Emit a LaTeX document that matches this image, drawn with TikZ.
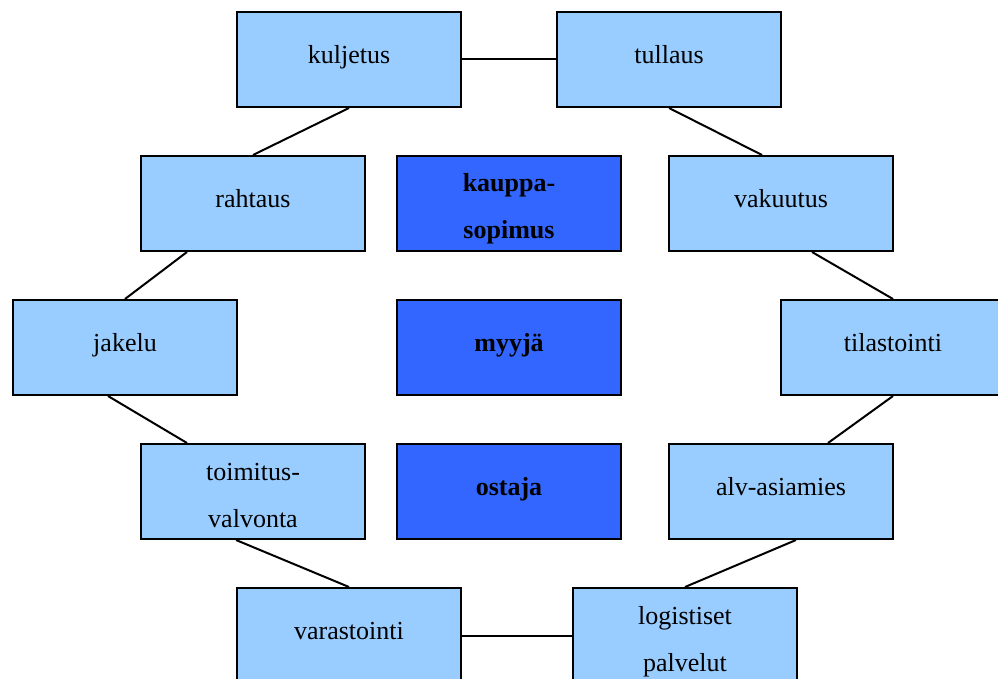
\documentclass[tikz,border=0pt]{standalone}
\usepackage{fontspec}
\setmainfont{Liberation Serif}
\definecolor{lightbox}{HTML}{99CCFF}
\definecolor{darkbox}{HTML}{3366FF}
% two centred lines, baseline of the whole box on the first line
\newcommand\twolines[2]{\vtop{\baselineskip=47pt\halign{\hfil##\hfil\cr#1\cr#2\cr}}}
\begin{document}
\begin{tikzpicture}[x=1pt,y=-1pt,
  box/.style={draw=black, line width=2pt, minimum width=224pt, minimum height=95pt,
    inner sep=0pt, text height=18pt, text depth=10.4pt, font=\fontsize{26}{47}\selectfont},
  dbl/.style={text height=18pt, text depth=41pt},
  task/.style={box, fill=lightbox},
  party/.style={box, fill=darkbox, font=\fontsize{26}{47}\selectfont\bfseries},
  link/.style={draw=black, line width=2pt}]
\useasboundingbox (0,0) rectangle (998,679);
% outer ring of service boxes
\node[task] (kuljetus)  at (349,59.5)  {kuljetus};
\node[task] (tullaus)   at (669,59.5)  {tullaus};
\node[task] (rahtaus)   at (253,203.5) {rahtaus};
\node[task] (vakuutus)  at (781,203.5) {vakuutus};
\node[task] (jakelu)    at (125,347.5) {jakelu};
\node[task] (tilasto)   at (893,347.5) {tilastointi};
\node[task,dbl] (toimitus) at (253,491.5) {\twolines{toimitus-}{valvonta}};
\node[task] (alv)       at (781,491.5) {alv-asiamies};
\node[task] (varasto)   at (349,635.5) {varastointi};
\node[task,dbl] (logist) at (685,635.5) {\twolines{logistiset}{palvelut}};
% central column
\node[party,dbl] (kauppa) at (509,203.5) {\twolines{kauppa-}{sopimus}};
\node[party] (myyja)  at (509,347.5) {myyjä};
\node[party] (ostaja) at (509,491.5) {ostaja};
% connectors around the ring
\draw[link] (kuljetus.east) -- (tullaus.west);
\draw[link] (kuljetus.south) -- (rahtaus.north);
\draw[link] (tullaus.south) -- ([xshift=94pt]vakuutus.north west);
\draw[link] ([xshift=47pt]rahtaus.south west) -- (jakelu.north);
\draw[link] ([xshift=144pt]vakuutus.south west) -- (tilasto.north);
\draw[link] ([xshift=96pt]jakelu.south west) -- ([xshift=47pt]toimitus.north west);
\draw[link] (tilasto.south) -- ([xshift=160pt]alv.north west);
\draw[link] ([xshift=96pt]toimitus.south west) -- (varasto.north);
\draw[link] ([xshift=128pt]alv.south west) -- (logist.north);
\draw[link] (varasto.east) -- (logist.west);
\end{tikzpicture}
\end{document}
